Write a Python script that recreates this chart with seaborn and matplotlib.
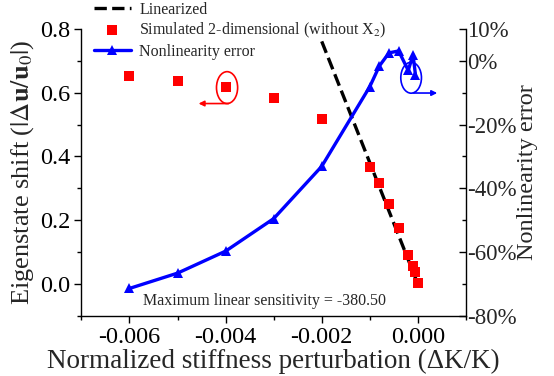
import numpy as np
import pandas as pd
import matplotlib
matplotlib.use("Agg")
import matplotlib.pyplot as plt
from matplotlib.patches import Ellipse
import seaborn as sns

# ---- data ----
sim_x = [-0.006, -0.005, -0.004, -0.003, -0.002, -0.001, -0.0008, -0.0006,
         -0.0004, -0.0002, -0.0001, -0.00005, 0.0]
sim_y = [0.653, 0.638, 0.619, 0.583, 0.519, 0.367, 0.317, 0.251,
         0.175, 0.091, 0.057, 0.038, 0.002]

lin_x = [-0.002, -0.001, -0.0005, 0.0]
lin_y = [0.761, 0.3805, 0.19025, 0.0]

err_x = [-0.006, -0.005, -0.004, -0.003, -0.002, -0.001, -0.0008, -0.0006,
         -0.0004, -0.0002, -0.0001, -0.00005]
err_y = [-71.4, -66.6, -59.7, -49.5, -33.1, -8.1, -1.6, 2.5,
         3.1, -3.0, 1.9, -4.4]

xticks = [-0.006, -0.004, -0.002, 0.000]
xtick_labels = ["-0.006", "-0.004", "-0.002", "0.000"]
yticks = [0.0, 0.2, 0.4, 0.6, 0.8]
ytick_labels = ["0.0", "0.2", "0.4", "0.6", "0.8"]
y2ticks = [10, 0, -20, -40, -60, -80]
y2tick_labels = ["10%", "0%", "-20%", "-40%", "-60%", "-80%"]

sns.set_theme(style="ticks")
plt.rcParams["font.family"] = ["Liberation Serif", "DejaVu Serif"]
plt.rcParams["mathtext.fontset"] = "stix"
plt.rcParams["axes.unicode_minus"] = False

fig = plt.figure(figsize=(5.54, 3.76), dpi=100)
ax = fig.add_axes([0.147, 0.160, 0.694, 0.763])
ax2 = ax.twinx()

sns.lineplot(x=lin_x, y=lin_y, ax=ax, color="black", linestyle="--",
             linewidth=2.4, label="Linearized", legend=False)
sns.scatterplot(x=sim_x, y=sim_y, ax=ax, color="#FF0000", marker="s", s=42,
                linewidth=0, label="Simulated 2-dimensional (without X$_2$)",
                legend=False, zorder=3)
sns.lineplot(x=err_x, y=err_y, ax=ax2, color="#0000FF", linewidth=2.4,
             marker="^", markersize=7, markeredgewidth=0, sort=False,
             label="Nonlinearity error", legend=False)

ax.set_xlim(-0.007, 0.001)
ax.set_ylim(-0.1, 0.8)
ax2.set_ylim(-80, 10)

ax.set_xticks(xticks)
ax.set_xticklabels(xtick_labels)
ax.set_xticks([-0.007, -0.005, -0.003, -0.001, 0.001], minor=True)
ax.set_yticks(yticks)
ax.set_yticklabels(ytick_labels)
ax.set_yticks([-0.1, 0.1, 0.3, 0.5, 0.7], minor=True)
ax2.set_yticks(y2ticks)
ax2.set_yticklabels(y2tick_labels)
ax2.set_yticks([-10, -30, -50, -70], minor=True)

for a in (ax, ax2):
    a.spines["top"].set_visible(False)
    for s in a.spines.values():
        s.set_linewidth(1.0)
        s.set_color("black")
ax.spines["right"].set_visible(False)
ax2.spines["left"].set_visible(False)
ax2.spines["bottom"].set_visible(False)

ax.tick_params(axis="both", which="major", direction="out", length=5,
               width=1, labelsize=17.5, pad=3, color="black", labelcolor="black")
ax.tick_params(axis="both", which="minor", direction="out", length=3,
               width=1, color="black")
ax2.tick_params(axis="y", which="major", direction="in", length=5, width=1,
                labelsize=16.5, pad=1, color="black")
ax2.tick_params(axis="y", which="minor", direction="in", length=3, width=1,
                color="black")

ax.set_xlabel("Normalized stiffness perturbation (ΔK/K)", fontsize=19.5, labelpad=1)
ax.set_ylabel(r"Eigenstate shift ($|\mathit{\Delta}\mathbf{u}/\mathbf{u}_{\mathit{0}}|$)",
              fontsize=19, labelpad=3)
ax2.set_ylabel("Nonlinearity error", fontsize=17.5, labelpad=0)

ax.text(-0.0032, -0.052, "Maximum linear sensitivity = -380.50",
        ha="center", va="center", fontsize=11.5)

# annotations: ellipses and arrows
ax.add_patch(Ellipse((-0.00397, 0.616), 0.00044, 0.10, fill=False,
                     edgecolor="#FF0000", linewidth=1.2, zorder=4))
ax.annotate("", xy=(-0.00462, 0.566), xytext=(-0.00388, 0.566),
            arrowprops=dict(arrowstyle="-|>", color="#FF0000", lw=1.2,
                            mutation_scale=8))
ax.add_patch(Ellipse((-0.00014, 0.647), 0.00043, 0.097, fill=False,
                     edgecolor="#0000FF", linewidth=1.2, zorder=4))
ax.annotate("", xy=(0.00046, 0.599), xytext=(-0.00015, 0.599),
            arrowprops=dict(arrowstyle="-|>", color="#0000FF", lw=1.2,
                            mutation_scale=8))

h1, l1 = ax.get_legend_handles_labels()
h2, l2 = ax2.get_legend_handles_labels()
fig.legend(h1 + h2, l1 + l2, loc="upper left", bbox_to_anchor=(0.158, 1.013),
           frameon=False, fontsize=11.5, handlelength=2.3, labelspacing=0.22,
           handletextpad=0.55, borderaxespad=0.0)

fig.savefig("out.png", dpi=100)
